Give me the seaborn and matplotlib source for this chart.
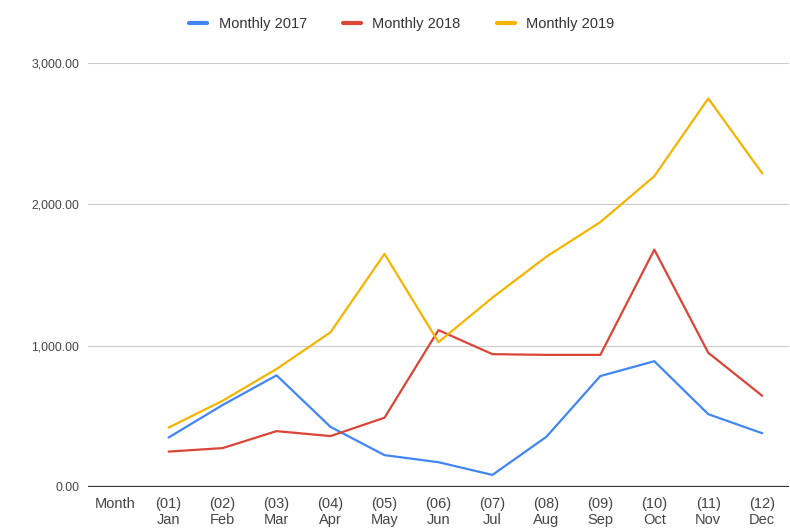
import numpy as np
import pandas as pd
import matplotlib
matplotlib.use("Agg")
import matplotlib.pyplot as plt
import seaborn as sns

# x categories (first one is the header cell "Month", no data)
categories = ["Month", "(01)\nJan", "(02)\nFeb", "(03)\nMar", "(04)\nApr", "(05)\nMay",
              "(06)\nJun", "(07)\nJul", "(08)\nAug", "(09)\nSep", "(10)\nOct",
              "(11)\nNov", "(12)\nDec"]

monthly_2017 = [np.nan, 350, 580, 790, 425, 225, 175, 85, 355, 785, 890, 515, 380]
monthly_2018 = [np.nan, 250, 275, 395, 360, 490, 1110, 940, 935, 935, 1680, 950, 645]
monthly_2019 = [np.nan, 420, 610, 835, 1095, 1650, 1025, 1340, 1630, 1875, 2200, 2750, 2220]

series_names = ["Monthly 2017", "Monthly 2018", "Monthly 2019"]
colors = ["#4285F4", "#DB4437", "#F4B400"]

y_ticks = [0, 1000, 2000, 3000]

# long-form table
pos = np.arange(len(categories))
df = pd.concat([
    pd.DataFrame({"pos": pos, "value": vals, "series": name})
    for name, vals in zip(series_names, [monthly_2017, monthly_2018, monthly_2019])
]).dropna()

sns.set_style("white")
plt.rcParams["font.family"] = ["Liberation Sans", "DejaVu Sans"]

fig = plt.figure(figsize=(7.9, 5.31), dpi=100)
ax = fig.add_axes([0.111, 0.083, 0.888, 0.798])

sns.lineplot(data=df, x="pos", y="value", hue="series", hue_order=series_names,
             palette=colors, linewidth=1.6, ax=ax, legend=True)

ax.set_xlim(-0.5, len(categories) - 0.5)
ax.set_ylim(0, 3000)
ax.set_xticks(pos)
ax.set_xticklabels(categories, fontsize=10.5, color="#444444", linespacing=1.2)
ax.set_yticks(y_ticks)
ax.set_yticklabels([f"{v:,.2f}" for v in y_ticks], fontsize=8.8, color="#444444")
ax.tick_params(axis="both", length=0, pad=6)
ax.tick_params(axis="x", pad=7)

for v in y_ticks[1:]:
    ax.axhline(v, color="#cccccc", linewidth=0.8, zorder=0)
ax.axhline(0, color="#333333", linewidth=1.6, zorder=3)

for s in ax.spines.values():
    s.set_visible(False)

ax.set_xlabel("")
ax.set_ylabel("")

handles, labels = ax.get_legend_handles_labels()
ax.legend(handles, labels, loc="upper center", bbox_to_anchor=(0.448, 1.14),
          ncol=3, frameon=False, fontsize=10.5, handlelength=1.2,
          columnspacing=2.5, handletextpad=0.8, labelcolor="#333333")
for line in ax.get_legend().get_lines():
    line.set_linewidth(3)

fig.savefig("out.png", dpi=100, facecolor="white")
